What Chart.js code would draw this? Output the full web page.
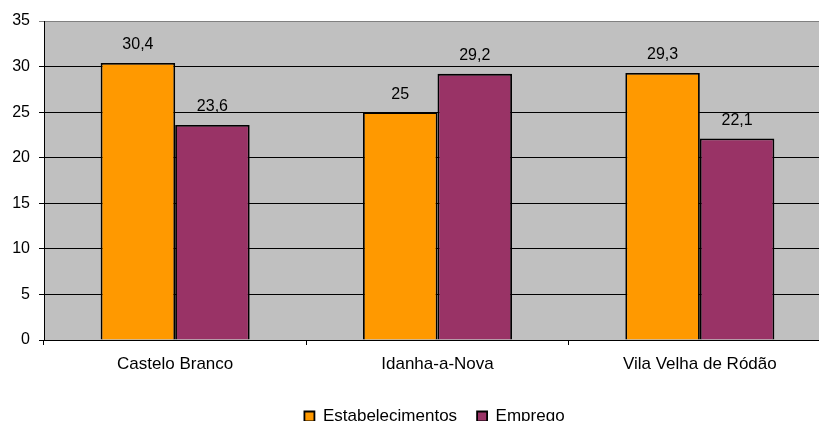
<!DOCTYPE html>
<html>
<head>
<meta charset="utf-8">
<script src="https://cdn.jsdelivr.net/npm/chart.js@4.4.1/dist/chart.umd.min.js"></script>
<style>
  html, body { margin: 0; padding: 0; background: #fff; overflow: hidden; }
  #wrap { position: relative; width: 869px; height: 440px; }
</style>
</head>
<body>
<div id="wrap"><canvas id="grafico"></canvas></div>
<script>
// Dados do gráfico
const concelhos = ['Castelo Branco', 'Idanha-a-Nova', 'Vila Velha de Ródão'];
const estabelecimentos = [30.4, 25, 29.3];
const emprego = [23.6, 29.2, 22.1];
const yTicks = [0, 5, 10, 15, 20, 25, 30, 35];

const FONTE = '"Liberation Sans", Arial, sans-serif';

// Fundo cinzento da área do gráfico
const fundoPlugin = {
    id: 'fundo',
    afterLayout(chart) {
        // a legenda do original não está centrada na área visível
        if (chart.legend) {
            chart.legend.left += 19;
            chart.legend.right += 19;
        }
    },
    beforeDraw(chart) {
        const a = chart.chartArea;
        const ctx = chart.ctx;
        ctx.save();
        ctx.fillStyle = '#C0C0C0';
        ctx.fillRect(a.left, a.top, a.right - a.left, a.bottom - a.top);
        ctx.restore();
    }
};

// Valores por cima das barras
const valoresPlugin = {
    id: 'valores',
    afterDatasetsDraw(chart) {
        const ctx = chart.ctx;
        ctx.save();
        ctx.font = '16px ' + FONTE;
        ctx.fillStyle = '#000';
        ctx.textAlign = 'center';
        ctx.textBaseline = 'middle';
        chart.data.datasets.forEach((ds, i) => {
            chart.getDatasetMeta(i).data.forEach((bar, j) => {
                const txt = String(ds.data[j]).replace('.', ',');
                ctx.fillText(txt, bar.x, bar.y - 18);
            });
        });
        ctx.restore();
    }
};

const ctx = document.getElementById('grafico').getContext('2d');
new Chart(ctx, {
    type: 'bar',
    data: {
        labels: concelhos,
        datasets: [{
            label: 'Estabelecimentos',
            data: estabelecimentos,
            backgroundColor: '#FF9900',
            borderColor: '#000',
            borderWidth: 1.8,
            barPercentage: 1,
            categoryPercentage: 0.568
        }, {
            label: 'Emprego',
            data: emprego,
            backgroundColor: '#993366',
            borderColor: '#000',
            borderWidth: 1.8,
            barPercentage: 1,
            categoryPercentage: 0.568
        }]
    },
    options: {
        responsive: true,
        maintainAspectRatio: false,
        animation: false,
        layout: { padding: { top: 21, right: 38, bottom: 5, left: 0 } },
        plugins: {
            legend: {
                position: 'bottom',
                labels: {
                    boxWidth: 10,
                    boxHeight: 10,
                    padding: 20,
                    color: '#000',
                    font: { size: 17, family: FONTE }
                }
            },
            tooltip: { enabled: false }
        },
        scales: {
            x: {
                grid: {
                    drawOnChartArea: false,
                    tickLength: 5,
                    color: '#000'
                },
                border: { color: '#000', width: 1 },
                ticks: {
                    color: '#000',
                    padding: 9,
                    font: { size: 17, family: FONTE }
                },
                afterFit(scale) { scale.height = 48; }
            },
            y: {
                min: 0,
                max: 35,
                afterBuildTicks(scale) {
                    scale.ticks = yTicks.map(v => ({ value: v }));
                },
                grid: {
                    tickLength: 5,
                    color: c => (c.tick && c.tick.value === 35) ? '#808080' : '#000'
                },
                border: { color: '#000', width: 1 },
                ticks: {
                    color: '#000',
                    padding: 9,
                    font: { size: 16, family: FONTE }
                },
                afterFit(scale) { scale.width = 44; }
            }
        }
    },
    plugins: [fundoPlugin, valoresPlugin]
});
</script>
</body>
</html>
